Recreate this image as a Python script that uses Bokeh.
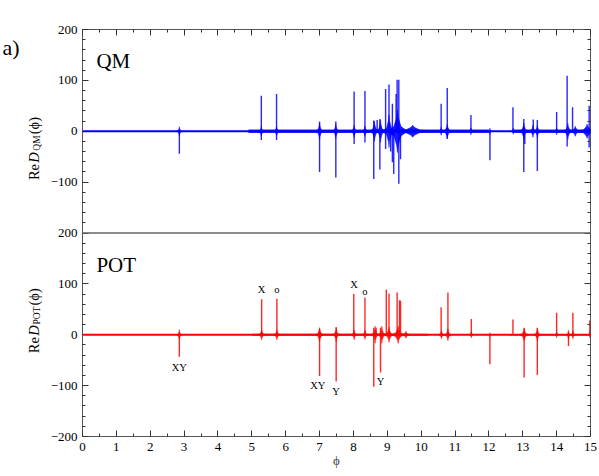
import math
from bokeh.plotting import figure
from bokeh.layouts import row
from bokeh.models import LinearAxis, FixedTicker, Range1d, Label, ColumnDataSource, Span
from bokeh.core.properties import value
from bokeh.embed import file_html
from bokeh.resources import INLINE

# ---------------- axes / ticks ----------------
# One frame holds both panels: POT on the main y range (-200..200, bottom half),
# QM on an extra y range whose -200..200 occupies the top half.
x_limits = [0, 15]
pot_y_range = [-200, 600]
qm_y_range = [-600, 200]
x_major_ticks = [0, 1, 2, 3, 4, 5, 6, 7, 8, 9, 10, 11, 12, 13, 14, 15]
x_minor_ticks = [0.5, 1.5, 2.5, 3.5, 4.5, 5.5, 6.5, 7.5, 8.5, 9.5, 10.5, 11.5, 12.5, 13.5, 14.5]
y_major_ticks = [-200, -100, 0, 100, 200, 300, 400, 500, 600]
y_tick_text = {-200: "\u2212200", -100: "\u2212100", 0: "0", 100: "100", 200: "200",
               300: "\u2212100", 400: "0", 500: "100", 600: "200"}
y_minor_ticks = [v for v in range(-180, 600, 20) if v % 100 != 0]
panel_divider = 200

# ---------------- QM panel data ----------------
qm_spike_phi = [2.86, 5.28, 5.28, 5.73, 5.73, 7.00, 7.00, 7.48, 7.48, 8.02, 8.02, 8.34, 8.34,
                8.60, 8.60, 8.70, 8.78, 8.78, 8.95, 8.95, 9.05, 9.10, 9.15, 9.15, 9.19, 9.26,
                9.29, 9.34, 9.34, 9.39, 10.59, 10.77, 10.77, 11.47, 12.03, 12.71, 13.03, 13.03,
                13.06, 13.31, 13.43, 13.43, 14.00, 14.31, 14.31, 14.47, 14.96, 14.96]
qm_spike_amp = [-44, 70, -17, 73, -17, -80, 19, -91, 19, 78, -25, 79, -22,
                -94, 21, 22, -75, 24, 83, -35, 92, -40, 54, -61, -84, 73,
                101, 101, -103, -55, 54, 85, -15, 32, -57, 47, -80, 24,
                -25, 23, -78, 22, 38, 109, -30, 47, 50, -32]
qm_burst_phi = [2.86, 5.28, 5.73, 7.00, 7.48, 8.02, 8.34, 8.62, 8.80, 9.05, 9.30, 9.75,
                10.59, 10.77, 11.47, 12.03, 12.72, 13.03, 13.30, 13.43, 14.00, 14.33, 14.55, 14.90]
qm_burst_halfwidth = [0.09, 0.12, 0.12, 0.13, 0.12, 0.12, 0.12, 0.14, 0.14, 0.20, 0.30, 0.60,
                      0.08, 0.15, 0.10, 0.06, 0.08, 0.15, 0.12, 0.12, 0.10, 0.15, 0.20, 0.30]
qm_burst_amp = [9, 9, 9, 16, 14, 12, 10, 20, 22, 32, 42, 12,
                8, 14, 7, 6, 6, 16, 12, 12, 7, 16, 10, 14]
qm_band_start = [4.9, 12.7]
qm_band_end = [12.0, 15.0]
qm_band_amp = [3.5, 3.5]

# ---------------- POT panel data ----------------
pot_spike_phi = [2.86, 5.29, 5.74, 7.00, 7.00, 7.49, 7.49, 8.01, 8.34, 8.60, 8.60, 8.67, 8.80,
                 8.80, 8.97, 9.05, 9.29, 9.36, 9.39, 10.59, 10.79, 11.48, 12.03, 12.71, 13.04,
                 13.04, 13.43, 13.43, 14.00, 14.35, 14.48, 14.98]
pot_spike_amp = [-43, 70, 71, -81, 12, -92, 15, 80, 73, -102, 14, 14, -74,
                 14, 89, 81, 83, 68, 67, 54, 83, 31, -58, 30, -84,
                 14, -79, 14, 43, -22, 43, 28]
pot_burst_phi = [2.86, 5.29, 5.74, 7.00, 7.49, 8.02, 8.34, 8.64, 8.84, 9.05, 9.32, 9.55,
                 10.60, 10.79, 11.48, 12.03, 13.04, 13.43, 14.00, 14.35, 14.48, 14.98]
pot_burst_halfwidth = [0.09, 0.12, 0.12, 0.13, 0.12, 0.10, 0.10, 0.12, 0.12, 0.15, 0.20, 0.15,
                       0.10, 0.12, 0.08, 0.05, 0.15, 0.12, 0.07, 0.08, 0.08, 0.05]
pot_burst_amp = [10, 10, 10, 14, 13, 10, 9, 17, 17, 15, 17, 7,
                 8, 12, 6, 4, 12, 12, 6, 9, 8, 6]
pot_band_start = [5.0, 12.6]
pot_band_end = [10.2, 15.0]
pot_band_amp = [2, 1.5]

pot_label_text = ["XY", "X", "o", "XY", "Y", "X", "o", "Y"]
pot_label_phi = [2.86, 5.29, 5.74, 6.95, 7.49, 8.02, 8.34, 8.80]
pot_label_y = [-64, 88, 88, -99, -112, 98, 85, -92]

assert len(qm_spike_phi) == len(qm_spike_amp)
assert len(pot_spike_phi) == len(pot_spike_amp)

SERIF = "Liberation Serif"
FRAME_COLOR = "#555555"
TICK_COLOR = "#333333"
STRIP_W = 44          # left strip holding the y-axis titles
STRIP_H = 468
TOP_BORDER = 29
FRAME_W = 508
FRAME_H = 407


def burst_shape(c, hw, a):
    xs = [c - hw, c - hw * 0.35, c - hw * 0.08, c, c + hw * 0.08, c + hw * 0.35,
          c + hw, c + hw * 0.35, c + hw * 0.08, c, c - hw * 0.08, c - hw * 0.35]
    ys = [0, a * 0.22, a * 0.65, a, a * 0.65, a * 0.22,
          0, -a * 0.22, -a * 0.65, -a, -a * 0.65, -a * 0.22]
    return xs, ys


def style_axis(ax, ticks, labels=True, x_axis=False):
    ax.axis_line_color = None
    ax.major_tick_in = 6
    ax.major_tick_out = 0
    ax.minor_tick_in = 3
    ax.minor_tick_out = 0
    ax.major_tick_line_color = TICK_COLOR
    ax.minor_tick_line_color = TICK_COLOR
    ax.major_label_text_font = SERIF
    ax.major_label_text_font_size = "13px"
    ax.major_label_text_color = "black"
    if labels:
        ax.major_label_standoff = 6 if x_axis else 5
    else:
        ax.major_label_overrides = {t: "" for t in ticks}
        ax.major_label_standoff = 0


p = figure(title=None, frame_width=FRAME_W, frame_height=FRAME_H,
           x_range=Range1d(*x_limits), y_range=Range1d(*pot_y_range),
           output_backend="svg", toolbar_location=None,
           x_axis_location=None, y_axis_location=None,
           min_border_left=82 - STRIP_W, min_border_right=8,
           min_border_top=TOP_BORDER, min_border_bottom=0, align="start")
p.extra_y_ranges = {"qm": Range1d(*qm_y_range)}
p.grid.visible = False
p.background_fill_color = "white"
p.border_fill_color = "white"
p.outline_line_color = FRAME_COLOR
p.outline_line_width = 1

yt = FixedTicker(ticks=y_major_ticks, minor_ticks=y_minor_ticks)
xt = FixedTicker(ticks=x_major_ticks, minor_ticks=x_minor_ticks)

left = LinearAxis(ticker=yt, major_label_overrides=y_tick_text)
style_axis(left, y_major_ticks)
p.add_layout(left, "left")
right = LinearAxis(ticker=yt)
style_axis(right, y_major_ticks, labels=False)
p.add_layout(right, "right")
above = LinearAxis(ticker=xt)
style_axis(above, x_major_ticks, labels=False)
p.add_layout(above, "above")
below = LinearAxis(ticker=xt, axis_label="\u03d5")
style_axis(below, x_major_ticks, x_axis=True)
below.axis_label_text_font = SERIF
below.axis_label_text_font_size = "13px"
below.axis_label_text_font_style = "normal"
below.axis_label_standoff = -1
p.add_layout(below, "below")

# divider between the two panels
p.add_layout(Span(location=panel_divider, dimension="width", line_color="#666666",
                  line_width=1.6))


def draw_signal(color, rname, spike_phi, spike_amp, b_phi, b_hw, b_amp,
                band_s, band_e, band_a):
    kw = {} if rname is None else {"y_range_name": rname}
    p.add_layout(Span(location=0, dimension="width", line_color=color, line_width=2.2, **kw))
    p.quad(left=band_s, right=band_e, top=band_a, bottom=[-a for a in band_a],
           fill_color=color, fill_alpha=0.85, line_color=None, **kw)
    xs, ys = [], []
    for c, hw, a in zip(b_phi, b_hw, b_amp):
        bx, by = burst_shape(c, hw, a)
        xs.append(bx)
        ys.append(by)
    p.patches(xs=xs, ys=ys, fill_color=color, fill_alpha=0.9, line_color=color,
              line_width=0.6, line_alpha=0.8, **kw)
    src = ColumnDataSource(dict(x=spike_phi, y0=[0] * len(spike_phi), y1=spike_amp))
    p.segment(x0="x", y0="y0", x1="x", y1="y1", source=src, line_color=color,
              line_width=1.4, line_alpha=0.85, **kw)


draw_signal("#0000ff", "qm", qm_spike_phi, qm_spike_amp,
            qm_burst_phi, qm_burst_halfwidth, qm_burst_amp,
            qm_band_start, qm_band_end, qm_band_amp)
draw_signal("#ff0000", None, pot_spike_phi, pot_spike_amp,
            pot_burst_phi, pot_burst_halfwidth, pot_burst_amp,
            pot_band_start, pot_band_end, pot_band_amp)

# panel names
p.add_layout(Label(x=0.41, y=138, y_range_name="qm", text="QM", text_font=SERIF,
                   text_font_size="21px", text_baseline="alphabetic", text_align="left",
                   text_color="black"))
p.add_layout(Label(x=0.41, y=138, text="POT", text_font=SERIF, text_font_size="21px",
                   text_baseline="alphabetic", text_align="left", text_color="black"))

# peak annotations in POT panel
lab_src = ColumnDataSource(dict(x=pot_label_phi, y=pot_label_y, text=pot_label_text))
p.text(x="x", y="y", text="text", source=lab_src, text_font=value(SERIF),
       text_font_size="10.5px", text_align="center", text_baseline="middle",
       text_color="black")

# left strip (page-pixel coordinates, y pointing down) holding the y titles and the tag
strip = figure(title=None, width=STRIP_W, height=STRIP_H,
               x_range=Range1d(0, STRIP_W), y_range=Range1d(STRIP_H, 0),
               output_backend="svg", toolbar_location=None,
               x_axis_location=None, y_axis_location=None,
               min_border=0, min_border_left=0, min_border_right=0,
               min_border_top=0, min_border_bottom=0, align="start")
strip.grid.visible = False
strip.outline_line_color = None
strip.background_fill_color = "white"
strip.border_fill_color = "white"

strip.add_layout(Label(x=2, y=21, text="a)", text_font=SERIF, text_font_size="22px",
                       text_baseline="alphabetic", text_align="left", text_color="black"))

ROT = math.pi / 2
MAIN_X = 33.5
SUB_X = 36.5


def ytitle(sub, starts):
    pieces = [("Re", MAIN_X, "14.5px", "normal"),
              ("D", MAIN_X, "14.5px", "italic"),
              (sub, SUB_X, "9.5px", "normal"),
              ("(\u03d5)", MAIN_X, "14.5px", "normal")]
    for (txt, xx, fs, st), yy in zip(pieces, starts):
        strip.add_layout(Label(x=xx, y=yy, text=txt, angle=ROT, text_font=SERIF,
                               text_font_size=fs, text_font_style=st,
                               text_align="left", text_baseline="middle",
                               text_color="black"))


ytitle("QM", [174, 154, 140, 121])
ytitle("POT", [374, 354, 341, 319])

layout = row(strip, p, spacing=0)
with open("out.html", "w") as f:
    f.write(file_html(layout, INLINE))
